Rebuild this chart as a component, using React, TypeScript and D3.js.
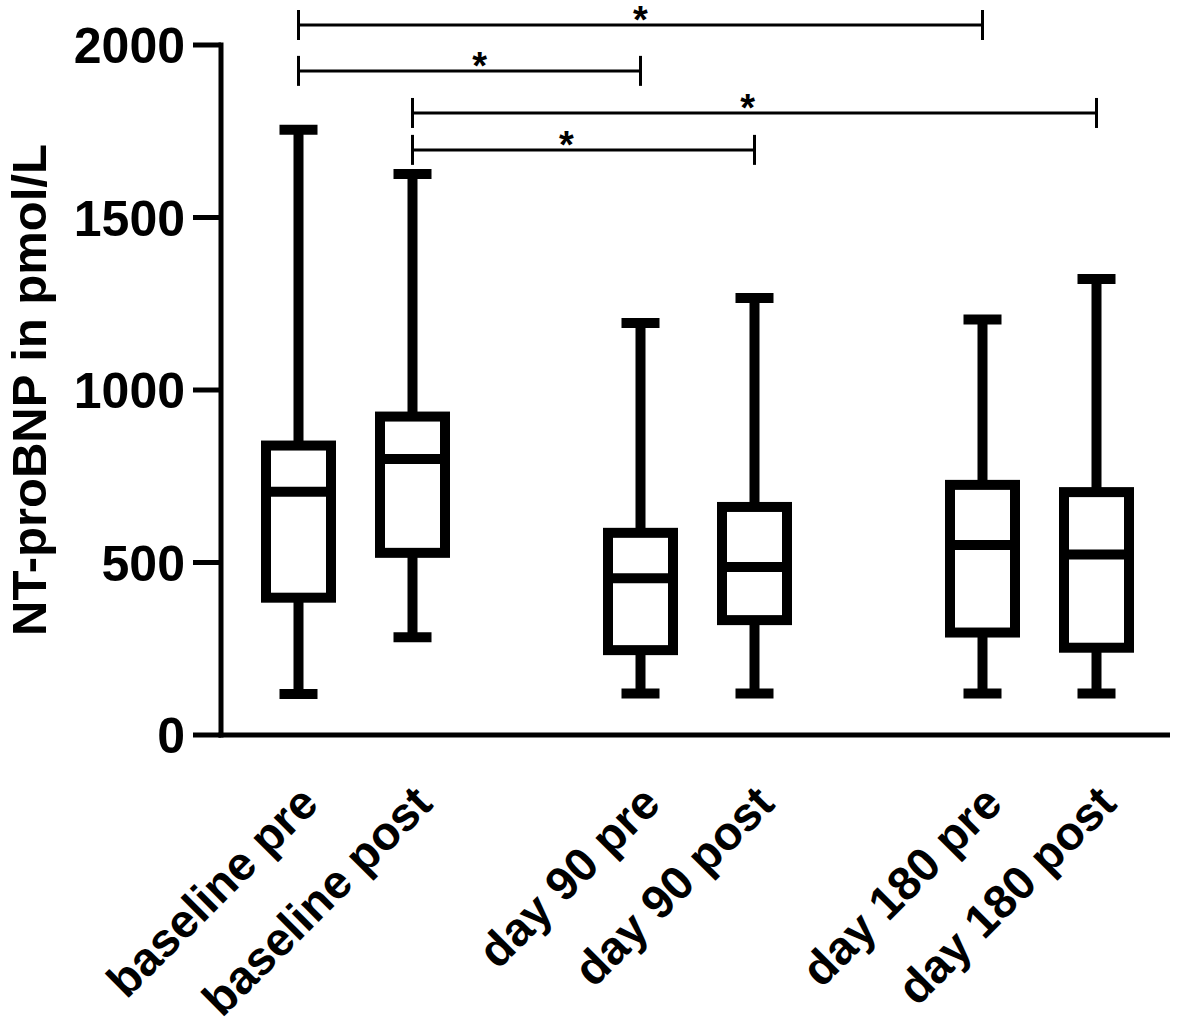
import React from "react";
import * as d3 from "d3";

const categories = ["baseline pre", "baseline post", "day 90 pre", "day 90 post", "day 180 pre", "day 180 post"];
const slots = [0, 1, 3, 4, 6, 7];
const whiskerMax = [1754, 1626, 1194, 1267, 1204, 1322];
const q3 = [839, 923, 586, 661, 725, 704];
const median = [705, 800, 454, 487, 551, 523];
const q1 = [398, 528, 246, 333, 297, 253];
const whiskerMin = [119, 283, 120, 120, 120, 120];
const yTicks = [0, 500, 1000, 1500, 2000];
const brackets = [
  { from: 0, to: 4, level: 2058, star: 3.0 },
  { from: 0, to: 2, level: 1925, star: 1.59 },
  { from: 1, to: 5, level: 1803, star: 3.94 },
  { from: 1, to: 3, level: 1696, star: 2.35 },
];
const yTitle = "NT-proBNP in pmol/L";

const W = 1181;
const H = 1024;
const FONT = "'Liberation Sans', Arial, Helvetica, sans-serif";

export default function App() {
  const y = d3.scaleLinear().domain([0, 2000]).range([735, 45]);
  const x = d3.scaleLinear().domain([0, 7]).range([298.5, 1096.5]);
  const axisX = 221;
  const boxW = 65;
  const capW = 38;
  const sw = 10;

  return (
    <svg width={W} height={H} style={{ position: "absolute", left: 0, top: 0, background: "#fff" }} fontFamily={FONT}>
      <rect x={0} y={0} width={W} height={H} fill="#fff" />
      {/* y axis */}
      <line x1={axisX} x2={axisX} y1={y(2000) - 2.5} y2={y(0) + 2.5} stroke="#000" strokeWidth={5} />
      {yTicks.map((t) => (
        <g key={t}>
          <line x1={193} x2={axisX} y1={y(t)} y2={y(t)} stroke="#000" strokeWidth={5} />
          <text x={185} y={y(t)} dy="0.36em" textAnchor="end" fontSize={50} fontWeight="bold">
            {t}
          </text>
        </g>
      ))}
      {/* x axis */}
      <line x1={axisX - 2.5} x2={1170} y1={y(0)} y2={y(0)} stroke="#000" strokeWidth={5} />
      <text
        transform={`translate(46, ${(y(0) + y(2000)) / 2}) rotate(-90)`}
        textAnchor="middle"
        fontSize={49}
        fontWeight="bold"
      >
        {yTitle}
      </text>
      {/* boxes */}
      {categories.map((c, i) => {
        const cx = x(slots[i]);
        return (
          <g key={c} stroke="#000" strokeWidth={sw} fill="none">
            <line x1={cx} x2={cx} y1={y(whiskerMax[i])} y2={y(q3[i])} />
            <line x1={cx} x2={cx} y1={y(q1[i])} y2={y(whiskerMin[i])} />
            <line x1={cx - capW / 2} x2={cx + capW / 2} y1={y(whiskerMax[i])} y2={y(whiskerMax[i])} />
            <line x1={cx - capW / 2} x2={cx + capW / 2} y1={y(whiskerMin[i])} y2={y(whiskerMin[i])} />
            <rect x={cx - boxW / 2} y={y(q3[i])} width={boxW} height={y(q1[i]) - y(q3[i])} fill="#fff" />
            <line x1={cx - boxW / 2} x2={cx + boxW / 2} y1={y(median[i])} y2={y(median[i])} />
          </g>
        );
      })}
      {/* x labels */}
      {categories.map((c, i) => {
        const cx = x(slots[i]);
        return (
          <text
            key={c}
            transform={`translate(${cx + 22}, 806) rotate(-45)`}
            textAnchor="end"
            fontSize={47}
            fontWeight="bold"
          >
            {c}
          </text>
        );
      })}
      {/* significance brackets */}
      {brackets.map((b, k) => {
        const x1 = x(slots[b.from]);
        const x2 = x(slots[b.to]);
        const yy = y(b.level);
        return (
          <g key={k} stroke="#000" strokeWidth={3}>
            <line x1={x1} x2={x2} y1={yy} y2={yy} />
            <line x1={x1} x2={x1} y1={yy - 15} y2={yy + 15} />
            <line x1={x2} x2={x2} y1={yy - 15} y2={yy + 15} />
            <text x={x(b.star)} y={yy + 8} textAnchor="middle" fontSize={38} fontWeight="bold" stroke="none" fill="#000">
              *
            </text>
          </g>
        );
      })}
    </svg>
  );
}
